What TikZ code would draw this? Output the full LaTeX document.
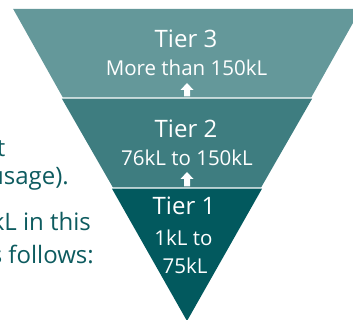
\documentclass[tikz,border=0pt]{standalone}
\usepackage{fontspec}
\setmainfont{Open Sans}
\definecolor{tierthree}{HTML}{64989A}
\definecolor{tiertwo}{HTML}{3E7D80}
\definecolor{tierone}{HTML}{02595E}
\definecolor{bodytext}{HTML}{0D5B5F}
\begin{document}
\begin{tikzpicture}[x=1pt,y=-1pt,
  tierlabel/.style={text=white,inner sep=0pt,anchor=base,font=\fontsize{24}{29}\selectfont},
  rangelabel/.style={text=white,inner sep=0pt,anchor=base,font=\fontsize{20.5}{29}\selectfont},
  bodyline/.style={text=bodytext,inner sep=0pt,anchor=base east,font=\fontsize{24}{29}\selectfont},
  uparrow/.style={fill=white,draw=none}]
\useasboundingbox (0,0) rectangle (353,320);
\clip (0,0) rectangle (353,320);
% half width w(y) = (321 - y)*0.557, centre 187
\fill[tierthree] (13.2,9) -- (360.8,9) -- (311.3,97.3) -- (62.7,97.3) -- cycle;
\fill[tiertwo] (61.9,98.7) -- (312.1,98.7) -- (261.2,187.3) -- (112.8,187.3) -- cycle;
\fill[tierone] (112.0,188.7) -- (262.0,188.7) -- (187,321) -- cycle;
% arrows
\fill[uparrow] (187,83) -- (193.5,90) -- (190,90) -- (190,96.3) -- (184,96.3) -- (184,90) -- (180.5,90) -- cycle;
\fill[uparrow] (187,172) -- (193.5,179) -- (190,179) -- (190,186.3) -- (184,186.3) -- (184,179) -- (180.5,179) -- cycle;
% tier texts
\node[tierlabel] (t3) at (186,48) {Tier 3};
\node[rangelabel] (r3) at (186.5,76) {More than 150kL};
\node[tierlabel] (t2) at (186,138) {Tier 2};
\node[rangelabel] (r2) at (187,166) {76kL to 150kL};
\node[tierlabel] (t1) at (184,215) {Tier 1};
\node[rangelabel] (r1a) at (183.5,245) {1kL to};
\node[rangelabel] (r1b) at (185,273) {75kL};
% body text fragments at left
\node[bodyline] (b1) at (5.5,157) {t};
\node[bodyline] (b2) at (69,185) {usage).};
\node[bodyline] (b3) at (91,231) {kL in this};
\node[bodyline] (b4) at (94,263) {s follows:};
\end{tikzpicture}
\end{document}
